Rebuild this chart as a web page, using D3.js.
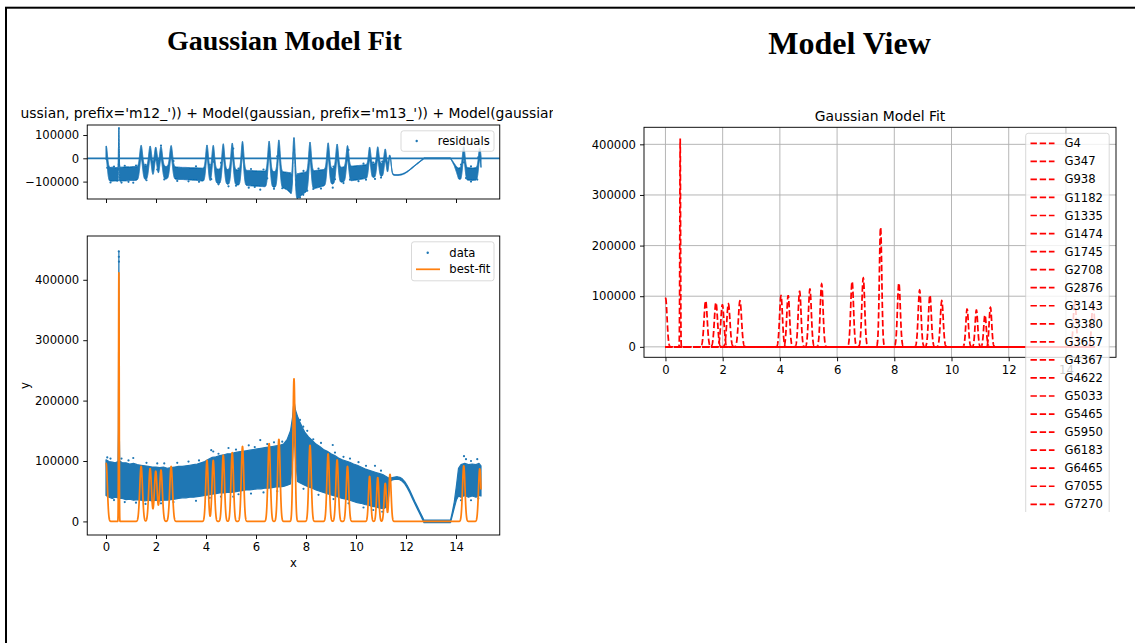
<!DOCTYPE html>
<html>
<head>
<meta charset="utf-8">
<script src="https://cdn.jsdelivr.net/npm/d3@7"></script>
<style>
  html, body { margin: 0; padding: 0; background: #fff; }
  svg { display: block; }
</style>
</head>
<body>
<svg id="page" width="1135" height="643"></svg>
<script>
// ---------------- data ----------------
// Gaussian components of the fitted model (name, centre, peak height, sigma)
const componentNames   = ["G4","G347","G938","G1182","G1335","G1474","G1745","G2708","G2876","G3143",
                          "G3380","G3657","G4367","G4622","G5033","G5465","G5950","G6183","G6465","G7055",
                          "G7270","G7480","G7605","G9580","G9985"];
const componentCenters = [0.006,0.515,1.405,1.765,1.99,2.2,2.605,4.04,4.29,4.69,
                          5.05,5.46,6.525,6.915,7.52,8.16,8.885,9.245,9.66,10.545,
                          10.87,11.17,11.36,14.31,14.95];
const componentHeights = [96000,413000,91000,87500,83000,85000,91000,101000,101000,109500,
                          114000,124000,129000,136000,236000,126000,112000,102000,91000,74500,
                          72500,63000,78000,92000,87000];
const componentSigmas  = [0.05,0.012,0.055,0.055,0.055,0.055,0.055,0.05,0.05,0.05,
                          0.05,0.05,0.05,0.05,0.042,0.05,0.05,0.05,0.05,0.045,
                          0.045,0.045,0.045,0.05,0.05];

// Measured signal: lower / upper edge of the dense point cloud along x
const dataX = [0,0.12,0.25,0.37,0.48,0.495,0.505,0.515,0.525,0.535,0.55,0.65,0.8,0.95,1.1,1.25,1.4,1.55,1.7,1.85,
  2.0,2.15,2.3,2.45,2.6,2.75,2.9,3.05,3.2,3.35,3.5,3.65,3.8,3.95,4.1,4.25,4.4,4.55,4.7,4.85,
  5.0,5.15,5.3,5.45,5.6,5.75,5.9,6.05,6.2,6.35,6.5,6.65,6.8,6.95,7.1,7.25,7.38,7.46,7.52,7.58,
  7.66,7.75,7.85,7.95,8.1,8.25,8.4,8.55,8.7,8.85,9.0,9.15,9.3,9.45,9.6,9.75,9.9,10.05,10.2,10.35,
  10.5,10.65,10.8,10.95,11.1,11.22,11.3,11.36,11.45,11.55,11.65,11.75,11.85,11.95,12.05,12.15,12.25,12.35,12.45,12.55,
  12.65,12.72,13.78,13.85,13.93,14.02,14.1,14.2,14.35,14.5,14.65,14.8,14.92,15.0];
const dataLow = [43000,40000,38000,40000,39000,60000,215000,295000,200000,70000,38000,38000,36000,37000,35000,36000,35000,34000,35000,34000,
  35000,34000,35000,35000,36000,37000,38000,39000,39000,40000,40000,41000,42000,43000,44000,45000,46000,47000,47000,48000,
  48000,49000,50000,51000,52000,52000,53000,54000,54000,55000,55000,56000,57000,57000,58000,60000,62000,100000,150000,105000,
  66000,64000,62000,60000,57000,55000,52000,50000,48000,46000,44000,42000,40000,38000,37000,35000,33000,31000,30000,28000,
  27000,25000,24000,22000,21000,24000,40000,66000,68500,69500,70000,69000,66500,62000,55500,47500,38500,29500,21000,12500,
  4000,-2000,-2000,9000,22000,36000,42000,40000,43000,40000,42000,40000,43000,42000];
const dataHigh = [102000,99000,98000,97000,99000,150000,320000,447000,310000,140000,100000,97000,97000,95000,96000,94000,93000,92000,91000,90000,
  90000,89000,90000,88000,89000,90000,91000,91000,92000,93000,94000,95000,97000,99000,103000,106000,107000,109000,110000,112000,
  112000,114000,115000,116000,117000,118000,119000,120000,121000,122000,123000,124000,125000,126000,128000,136000,150000,172000,200000,184000,
  174000,165000,156000,148000,140000,134000,128000,124000,119000,116000,112000,109000,105000,102000,100000,98000,95000,93000,90000,87000,
  85000,83000,81000,79000,77000,74000,72000,71500,72500,73500,74000,73000,70500,66000,59500,51500,42500,33500,25000,16500,
  8000,2000,2000,15000,32000,60000,88000,94000,96000,94000,95000,94000,96000,92000];

// Isolated points lying outside the dense cloud
const strayX = [0.05,0.18,0.62,0.9,1.09,1.62,2.05,2.33,2.85,3.3,3.72,4.21,4.29,4.5,4.9,5.2,5.71,5.95,6.17,6.45,
  6.72,7.05,7.76,7.89,8.05,8.29,8.6,9.07,9.16,9.5,9.76,10.1,10.4,10.76,11.0,14.32,14.4,14.6,14.85,
  0.32,0.75,1.2,1.58,2.2,2.7,3.6,4.15,4.6,5.09,5.3,5.8,6.3,6.85,7.9,8.5,9.1,9.7,10.3,10.69,11.05,14.2,14.6,14.89,
  0.512,0.514,0.518];
const strayY = [106000,104000,104000,101000,105000,97000,96000,96000,97000,99000,101000,118000,115700,112000,121500,119000,126000,123000,134700,128000,
  131000,132000,168000,156800,150000,136000,130000,126500,114000,107000,104000,98000,92000,92000,84000,108000,103000,100000,103000,
  35400,32000,31000,29000,30000,32000,34000,39000,41000,41000,45000,46000,48000,50000,54000,44000,37000,30000,23000,18900,16000,35000,35000,38000,
  447000,438000,430000];

// Tick values
const xTickValues     = [0,2,4,6,8,10,12,14];
const mainYTickValues = [0,100000,200000,300000,400000];
const residTickValues = [-100000,0,100000];
const viewYTickValues = [0,100000,200000,300000,400000];

// ---------------- helpers ----------------
const C0 = "#1f77b4", C1 = "#ff7f0e";
const TICK_FONT = "11.6px 'DejaVu Sans', sans-serif";
const LINE_W = 1.74, SPINE_W = 0.93;

function componentAt(i, x) {
  const z = (x - componentCenters[i]) / componentSigmas[i];
  return componentHeights[i] * Math.exp(-0.5 * z * z);
}
function modelAt(x) {
  let s = 0;
  for (let i = 0; i < componentCenters.length; i++) s += componentAt(i, x);
  return s;
}
// piecewise-linear edges of the measured cloud
const lowAt  = d3.scaleLinear().domain(dataX).range(dataLow).clamp(true);
const highAt = d3.scaleLinear().domain(dataX).range(dataHigh).clamp(true);

// x positions where the model curves are evaluated
const evalX = d3.range(0, 7501).map(i => i * 0.002);
const modelY = evalX.map(modelAt);

const svg = d3.select("#page");
const defs = svg.append("defs");
function clip(id, x, y, w, h) {
  defs.append("clipPath").attr("id", id).append("rect")
    .attr("x", x).attr("y", y).attr("width", w).attr("height", h);
  return "url(#" + id + ")";
}

svg.append("rect").attr("width", 1135).attr("height", 643).attr("fill", "#fff");
// page frame
svg.append("rect").attr("x", 6).attr("y", 7.7).attr("width", 1400).attr("height", 900)
  .attr("fill", "none").attr("stroke", "#000").attr("stroke-width", 2);

// headings
svg.append("text").attr("x", 284.5).attr("y", 49.5).attr("text-anchor", "middle")
  .style("font", "bold 28px 'Liberation Serif', 'Times New Roman', serif").attr("fill", "#000")
  .text("Gaussian Model Fit");
svg.append("text").attr("x", 849.5).attr("y", 54).attr("text-anchor", "middle")
  .style("font", "bold 32px 'Liberation Serif', 'Times New Roman', serif").attr("fill", "#000")
  .text("Model View");

function styleAxis(g) {
  g.select(".domain").remove();
  g.selectAll(".tick line").attr("stroke", "#000").attr("stroke-width", SPINE_W);
  g.selectAll(".tick text").style("font", TICK_FONT).attr("fill", "#000");
}
const fmt = d3.format("d");

// ================= left figure: fit + residuals =================
const left = svg.append("g").attr("clip-path", clip("figL", 20, 95, 533, 490));

const xL = d3.scaleLinear().domain([-0.75, 15.75]).range([87.25, 499.75]);
const yRes = d3.scaleLinear().domain([-174700, 143000]).range([199, 125]);
const yMain = d3.scaleLinear().domain([-22500, 472500]).range([535, 236]);

// long model expression used as the residual panel title
left.append("text").attr("x", 20.5).attr("y", 118)
  .style("font", "13.9px 'DejaVu Sans', sans-serif").attr("fill", "#000")
  .text("ussian, prefix='m12_')) + Model(gaussian, prefix='m13_')) + Model(gaussian");

// ---- residual panel (model minus data) ----
const resPlot = left.append("g").attr("clip-path", clip("resAx", 87.25, 125, 412.5, 74));
resPlot.append("path")
  .datum(d3.range(evalX.length))
  .attr("d", d3.area()
    .x(i => xL(evalX[i]))
    .y0(i => yRes(modelY[i] - highAt(evalX[i])))
    .y1(i => yRes(modelY[i] - lowAt(evalX[i]))))
  .attr("fill", C0).attr("stroke", C0).attr("stroke-width", 1).attr("stroke-linejoin", "round");
resPlot.selectAll("circle").data(strayX).join("circle")
  .attr("cx", (d) => xL(d))
  .attr("cy", (d, i) => yRes(modelAt(d) - strayY[i]))
  .attr("r", 1.1).attr("fill", C0);
resPlot.append("line").attr("x1", 87.25).attr("x2", 499.75)
  .attr("y1", yRes(0)).attr("y2", yRes(0)).attr("stroke", C0).attr("stroke-width", LINE_W);

left.append("g").attr("transform", "translate(87.25,0)")
  .call(d3.axisLeft(yRes).tickValues(residTickValues).tickSize(4).tickPadding(4).tickFormat(fmt))
  .call(styleAxis);
left.append("g").attr("transform", "translate(0,199)")
  .call(d3.axisBottom(xL).tickValues(xTickValues).tickSize(4).tickFormat(() => ""))
  .call(styleAxis);
left.append("rect").attr("x", 87.25).attr("y", 125).attr("width", 412.5).attr("height", 74)
  .attr("fill", "none").attr("stroke", "#000").attr("stroke-width", SPINE_W);

// residual legend
left.append("rect").attr("x", 401).attr("y", 130.8).attr("width", 93).attr("height", 20.5).attr("rx", 2.5)
  .attr("fill", "#fff").attr("fill-opacity", 0.8).attr("stroke", "#cccccc").attr("stroke-opacity", 0.8)
  .attr("stroke-width", SPINE_W);
left.append("circle").attr("cx", 416.7).attr("cy", 141).attr("r", 1.2).attr("fill", C0);
left.append("text").attr("x", 437.7).attr("y", 141).attr("dy", "0.35em")
  .style("font", TICK_FONT).attr("fill", "#000").text("residuals");

// ---- main panel ----
const mainPlot = left.append("g").attr("clip-path", clip("mainAx", 87.25, 236, 412.5, 299));
mainPlot.append("path")
  .datum(dataX.map((x, i) => i))
  .attr("d", d3.area()
    .x(i => xL(dataX[i]))
    .y0(i => yMain(dataLow[i]))
    .y1(i => yMain(dataHigh[i])))
  .attr("fill", C0).attr("stroke", C0).attr("stroke-width", 1.2).attr("stroke-linejoin", "round");
mainPlot.selectAll("circle").data(strayX).join("circle")
  .attr("cx", d => xL(d)).attr("cy", (d, i) => yMain(strayY[i]))
  .attr("r", 1.1).attr("fill", C0);
mainPlot.append("path")
  .datum(d3.range(evalX.length))
  .attr("d", d3.line().x(i => xL(evalX[i])).y(i => yMain(modelY[i])))
  .attr("fill", "none").attr("stroke", C1).attr("stroke-width", LINE_W).attr("stroke-linejoin", "round");

left.append("g").attr("transform", "translate(87.25,0)")
  .call(d3.axisLeft(yMain).tickValues(mainYTickValues).tickSize(4).tickPadding(4).tickFormat(fmt))
  .call(styleAxis);
left.append("g").attr("transform", "translate(0,535)")
  .call(d3.axisBottom(xL).tickValues(xTickValues).tickSize(4).tickPadding(4).tickFormat(fmt))
  .call(styleAxis);
left.append("rect").attr("x", 87.25).attr("y", 236).attr("width", 412.5).attr("height", 299)
  .attr("fill", "none").attr("stroke", "#000").attr("stroke-width", SPINE_W);

left.append("text").attr("x", 293.5).attr("y", 567).attr("text-anchor", "middle")
  .style("font", TICK_FONT).attr("fill", "#000").text("x");
left.append("text").attr("transform", "translate(29,385.5) rotate(-90)").attr("text-anchor", "middle")
  .style("font", TICK_FONT).attr("fill", "#000").text("y");

// main legend
left.append("rect").attr("x", 411.5).attr("y", 241.8).attr("width", 82.5).attr("height", 39).attr("rx", 2.5)
  .attr("fill", "#fff").attr("fill-opacity", 0.8).attr("stroke", "#cccccc").attr("stroke-opacity", 0.8)
  .attr("stroke-width", SPINE_W);
left.append("circle").attr("cx", 427.7).attr("cy", 252.7).attr("r", 1.2).attr("fill", C0);
left.append("text").attr("x", 449.3).attr("y", 252.7).attr("dy", "0.35em")
  .style("font", TICK_FONT).attr("fill", "#000").text("data");
left.append("line").attr("x1", 416).attr("x2", 440).attr("y1", 269.3).attr("y2", 269.3)
  .attr("stroke", C1).attr("stroke-width", LINE_W);
left.append("text").attr("x", 449.3).attr("y", 269.3).attr("dy", "0.35em")
  .style("font", TICK_FONT).attr("fill", "#000").text("best-fit");

// ================= right figure: individual components =================
const right = svg.append("g").attr("clip-path", clip("figR", 560, 95, 575, 417));
const xR = d3.scaleLinear().domain([-0.75, 15.75]).range([644, 1116]);
const yR = d3.scaleLinear().domain([-20650, 433650]).range([357.3, 127.3]);

right.append("text").attr("x", 880).attr("y", 121).attr("text-anchor", "middle")
  .style("font", "13.9px 'DejaVu Sans', sans-serif").attr("fill", "#000").text("Gaussian Model Fit");

// grid
right.append("g").selectAll("line").data(xTickValues).join("line")
  .attr("x1", d => xR(d)).attr("x2", d => xR(d)).attr("y1", 127.3).attr("y2", 357.3)
  .attr("stroke", "#b0b0b0").attr("stroke-width", SPINE_W);
right.append("g").selectAll("line").data(viewYTickValues).join("line")
  .attr("y1", d => yR(d)).attr("y2", d => yR(d)).attr("x1", 644).attr("x2", 1116)
  .attr("stroke", "#b0b0b0").attr("stroke-width", SPINE_W);

const compX = evalX.filter((d, i) => i % 2 === 0);
const compPlot = right.append("g").attr("clip-path", clip("viewAx", 644, 127.3, 472, 230));
componentNames.forEach((name, ci) => {
  compPlot.append("path")
    .datum(compX)
    .attr("d", d3.line().x(x => xR(x)).y(x => yR(componentAt(ci, x))))
    .attr("fill", "none").attr("stroke", "#ff0000").attr("stroke-width", LINE_W)
    .attr("stroke-dasharray", "6.4,2.8");
});

right.append("g").attr("transform", "translate(644,0)")
  .call(d3.axisLeft(yR).tickValues(viewYTickValues).tickSize(4).tickPadding(4).tickFormat(fmt))
  .call(styleAxis);
right.append("g").attr("transform", "translate(0,357.3)")
  .call(d3.axisBottom(xR).tickValues(xTickValues).tickSize(4).tickPadding(4).tickFormat(fmt))
  .call(styleAxis);
right.append("rect").attr("x", 644).attr("y", 127.3).attr("width", 472).attr("height", 230)
  .attr("fill", "none").attr("stroke", "#000").attr("stroke-width", SPINE_W);

// component legend (runs past the bottom of the figure and is cut there)
const legTop = 133.3, legPitch = 18.05;
right.append("rect").attr("x", 1025.7).attr("y", legTop).attr("width", 83.5)
  .attr("height", componentNames.length * legPitch + 6).attr("rx", 2.5)
  .attr("fill", "#fff").attr("fill-opacity", 0.8).attr("stroke", "#cccccc").attr("stroke-opacity", 0.8)
  .attr("stroke-width", SPINE_W);
const leg = right.append("g").selectAll("g").data(componentNames).join("g")
  .attr("transform", (d, i) => `translate(0,${legTop + 10 + i * legPitch})`);
leg.append("line").attr("x1", 1030.5).attr("x2", 1054.5).attr("y1", 0).attr("y2", 0)
  .attr("stroke", "#ff0000").attr("stroke-width", LINE_W).attr("stroke-dasharray", "6.4,2.8");
leg.append("text").attr("x", 1064.5).attr("y", 0).attr("dy", "0.35em")
  .style("font", TICK_FONT).attr("fill", "#000").text(d => d);
</script>
</body>
</html>
